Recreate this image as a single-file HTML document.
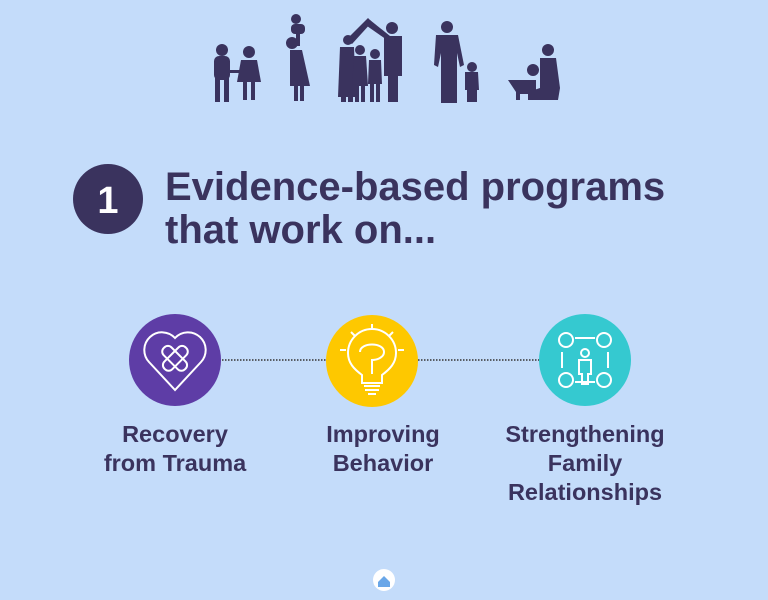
<!DOCTYPE html>
<html><head><style>
body{margin:0;width:768px;height:600px;background:#c4dcfa;position:relative;overflow:hidden;font-family:"Liberation Sans",sans-serif;color:#3a335e}
.t{position:absolute;font-weight:bold}
.lab{position:absolute;font-weight:bold;font-size:23.5px;line-height:29px;text-align:center;width:220px}
</style></head><body>
<svg width="768" height="600" style="position:absolute;left:0;top:0">
<g fill="#3a335e">
<circle cx="222" cy="50" r="6"/><rect x="214" y="56" width="16" height="24" rx="5"/><rect x="215" y="78" width="5" height="24"/><rect x="224" y="78" width="5" height="24"/>
<circle cx="249" cy="52" r="6"/><path d="M241 60 h16 l4 22 h-24z"/><rect x="243" y="80" width="4" height="20"/><rect x="251" y="80" width="4" height="20"/>
<rect x="228" y="70" width="14" height="3"/>
<circle cx="296" cy="19" r="5"/><rect x="291" y="24" width="14" height="10" rx="4"/>
<circle cx="292" cy="43" r="6"/><path d="M290 50 h12 l8 36 h-20z"/><rect x="294" y="84" width="4" height="17"/><rect x="300" y="84" width="4" height="17"/><rect x="296" y="28" width="4" height="18"/>
<path d="M346 40 l22 -22 l4 4 l-20 22z"/><path d="M370 20 l20 16 l-3 4 l-20 -14z"/>
<circle cx="348" cy="40" r="5"/><path d="M340 47 h14 l2 50 h-18z"/><rect x="341" y="92" width="5" height="10"/><rect x="348" y="92" width="5" height="10"/>
<circle cx="392" cy="28" r="6"/><path d="M384 36 h18 l0 40 h-4 v26 h-10 v-26 h-4z"/>
<circle cx="360" cy="50" r="5"/><path d="M354 56 h12 l2 30 h-16z"/><rect x="355" y="84" width="4" height="18"/><rect x="361" y="84" width="4" height="18"/>
<circle cx="375" cy="54" r="5"/><path d="M369 60 h12 l1 24 h-14z"/><rect x="370" y="82" width="4" height="20"/><rect x="376" y="82" width="4" height="20"/>
<circle cx="447" cy="27" r="6"/><path d="M436 35 h22 l6 30 l-4 2 l-3 -14 v50 h-16 v-50 l-3 14 l-4 -2z"/>
<circle cx="472" cy="67" r="5"/><path d="M465 72 h13 l1 18 h-2 v12 h-10 v-12 h-2z"/>
<circle cx="548" cy="50" r="6"/><path d="M540 58 h16 l4 30 l-2 12 h-30 v-8 l12 -4z"/>
<path d="M514 80 h22 v10 l-4 10 h-4 v-6 h-8 v6 h-4 v-8 l-4 -6 l-4 -6z"/><circle cx="533" cy="70" r="6"/>
</g>
<circle cx="108" cy="199" r="35" fill="#3a335e"/>
<text x="108" y="213" fill="#fff" font-family="Liberation Sans" font-weight="bold" font-size="38" text-anchor="middle">1</text>
<line x1="222" y1="360" x2="326" y2="360" stroke="#333" stroke-width="1.5" stroke-dasharray="1.5 1.5"/>
<line x1="418" y1="360" x2="540" y2="360" stroke="#333" stroke-width="1.5" stroke-dasharray="1.5 1.5"/>
<circle cx="175" cy="360" r="46" fill="#5e3da6"/>
<circle cx="372" cy="361" r="46" fill="#fec800"/>
<circle cx="585" cy="360" r="46" fill="#35c9d0"/>
<g fill="none" stroke="#fff" stroke-width="2">
<path d="M175 390 l-26 -28 a12 12 0 0 1 26 -24 a12 12 0 0 1 26 24z"/>
<rect x="160" y="353" width="30" height="11" rx="5" transform="rotate(45 175 358)"/>
<rect x="160" y="353" width="30" height="11" rx="5" transform="rotate(-45 175 358)"/>
<path d="M362 375 c-8 -6 -14 -12 -14 -22 a24 24 0 0 1 48 0 c0 10 -6 16 -14 22 v8 h-20z"/>
<path d="M364 386 h16 M365 390 h14 M368 394 h8"/>
<path d="M360 352 c0 -10 24 -10 24 0 c0 6 -8 8 -12 8 v14"/>
<path d="M372 330 v-6 M355 336 l-4 -4 M389 336 l4 -4 M346 350 h-6 M398 350 h6"/>
<circle cx="566" cy="340" r="7"/><circle cx="604" cy="340" r="7"/><circle cx="566" cy="380" r="7"/><circle cx="604" cy="380" r="7"/>
<circle cx="585" cy="353" r="4"/><path d="M579 360 h12 v14 h-3 v10 h-6 v-10 h-3z"/>
<path d="M575 338 h20 M575 382 h20 M562 352 v16 M608 352 v16"/>
</g>
<circle cx="384" cy="580" r="11" fill="#fff"/>
<path d="M378 582 l6 -6 l6 6 v5 h-12z" fill="#6aa7e8"/>
</svg>
<div class="t" style="left:165px;top:166px;font-size:40px;line-height:43px">Evidence-based programs<br>that work on...</div>
<div class="lab" style="left:65px;top:420px">Recovery<br>from Trauma</div>
<div class="lab" style="left:273px;top:420px">Improving<br>Behavior</div>
<div class="lab" style="left:475px;top:420px">Strengthening<br>Family<br>Relationships</div>
</body></html>
